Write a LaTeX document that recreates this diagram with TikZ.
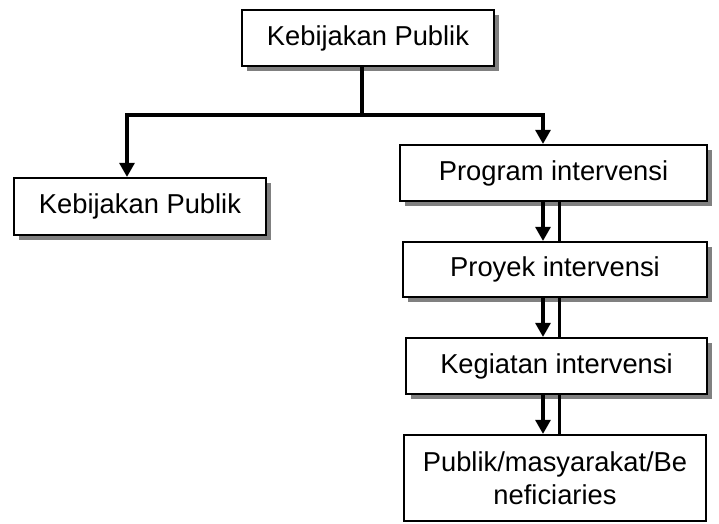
\documentclass[tikz,border=0pt]{standalone}
\usepackage{fontspec}
\setmainfont{Liberation Sans}
\usetikzlibrary{arrows.meta,shadows}
\begin{document}
\begin{tikzpicture}[x=0.75pt,y=-0.75pt,
  box/.style={draw=black,line width=1.5pt,fill=white,inner sep=0pt,
    font=\fontsize{20.5}{25}\selectfont,align=center},
  shbox/.style={box,drop shadow={shadow xshift=4pt,shadow yshift=-4pt,fill=black!50,opacity=1}},
  conn/.style={line width=3pt},
  thin/.style={line width=2.3pt},
  arr/.style={conn,-{Triangle[length=10.5pt,width=11pt]}}]
\useasboundingbox (0,0) rectangle (719,524);
\node[shbox,minimum width=189pt,minimum height=42pt] (top) at (368,38) {Kebijakan Publik};
\node[shbox,minimum width=189pt,minimum height=42.75pt] (left) at (140,206.5) {Kebijakan Publik};
\node[shbox,minimum width=230.25pt,minimum height=42pt] (prog) at (553.5,173) {Program intervensi};
\node[shbox,minimum width=228pt,minimum height=41.25pt] (proy) at (555,269.5) {Proyek intervensi};
\node[shbox,minimum width=225.75pt,minimum height=42pt] (keg) at (556.5,366) {Kegiatan intervensi};
\node[box,minimum width=226.5pt,minimum height=64.5pt] (pub) at (555,478) {Publik/masyarakat/Be\\neficiaries};
\coordinate (j) at (362,115);
\coordinate (jl) at (127,115);
\coordinate (jr) at (543,115);
\coordinate (r2) at (559.5,0);
\draw[conn] (top.south -| j) -- (j);
\draw[conn,line cap=rect] (jl) -- (jr);
\draw[arr] (jl) -- (jl |- left.north);
\draw[arr] (jr) -- (jr |- prog.north);
\draw[arr] (prog.south -| jr) -- (proy.north -| jr);
\draw[thin] (prog.south -| r2) -- (proy.north -| r2);
\draw[arr] (proy.south -| jr) -- (keg.north -| jr);
\draw[thin] (proy.south -| r2) -- (keg.north -| r2);
\draw[arr] (keg.south -| jr) -- (pub.north -| jr);
\draw[thin] (keg.south -| r2) -- (pub.north -| r2);
\end{tikzpicture}
\end{document}
